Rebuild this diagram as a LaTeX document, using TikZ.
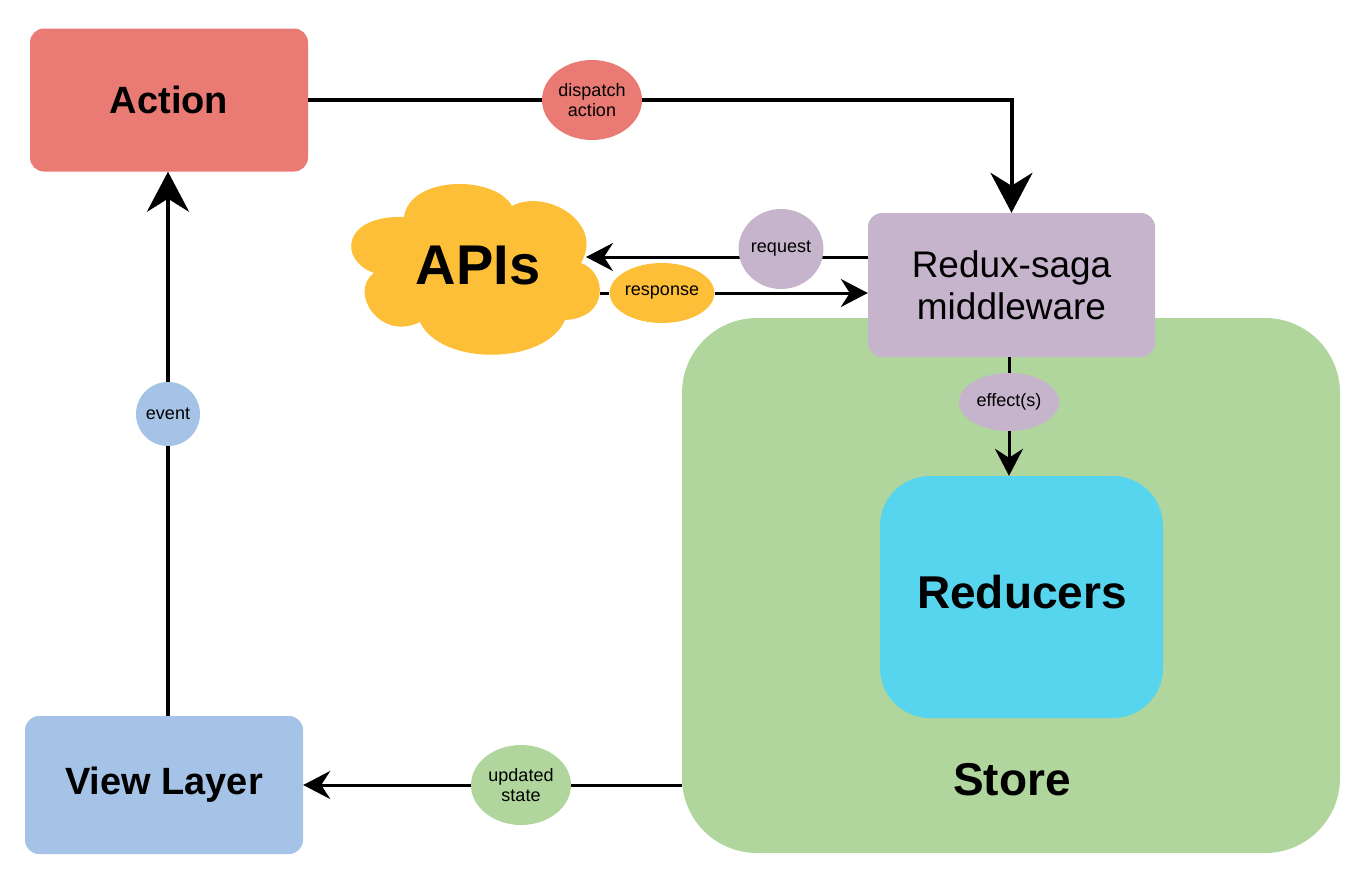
\documentclass[tikz,border=0pt]{standalone}
\usepackage{fontspec}
\setmainfont{Liberation Sans}
\usetikzlibrary{arrows.meta,positioning,shapes.geometric}
\definecolor{actionred}{HTML}{E97B74}
\definecolor{viewblue}{HTML}{A4C3E6}
\definecolor{apiyellow}{HTML}{FDBF37}
\definecolor{sagapurple}{HTML}{C6B4CD}
\definecolor{storegreen}{HTML}{B0D69D}
\definecolor{reducercyan}{HTML}{57D5EE}
\tikzset{
  box/.style={rounded corners=14pt, inner sep=0pt, align=center},
  tag/.style={ellipse, inner sep=0pt, align=center, font=\fontsize{18}{20}\selectfont},
  bigline/.style={line width=4pt},
  smallline/.style={line width=3pt},
  bigtip/.style={-{Stealth[length=40pt,width=42pt,inset=13pt]}},
  smalltip/.style={-{Stealth[length=27pt,width=28pt,inset=9pt]}},
}
\begin{document}
\begin{tikzpicture}[x=1pt,y=-1pt]
  \useasboundingbox (0,0) rectangle (1368,894);
  % boxes
  \node [box, fill=storegreen, rounded corners=75pt, minimum width=658pt, minimum height=535pt] (store) at (1011,585.5) {};
  \node [font=\fontsize{46}{50}\selectfont\bfseries] (storelbl) at (1012,780) {Store};
  \node [box, fill=reducercyan, rounded corners=50pt, minimum width=283pt, minimum height=242pt] (reducers) at (1021.5,597) {};
  \node [font=\fontsize{46}{50}\selectfont\bfseries] (reducerslbl) at (1022,592) {Reducers};
  \node [box, fill=actionred, minimum width=278pt, minimum height=143pt, font=\fontsize{38}{42}\selectfont\bfseries] (action) at (169,100) {Action};
  \node [box, fill=viewblue, minimum width=278pt, minimum height=138pt, font=\fontsize{38}{42}\selectfont\bfseries] (view) at (164,785) {View Layer};
  \node [box, fill=sagapurple, minimum width=287pt, minimum height=144pt, font=\fontsize{37}{42}\selectfont] (saga) at (1011.5,285) {Redux-saga\\middleware};
  % cloud
  \fill [apiyellow] (404,217) .. controls (410,175) and (495,175) .. (512,206)
    .. controls (545,188) and (605,222) .. (581,263)
    .. controls (607,272) and (610,318) .. (565,320)
    .. controls (545,366) and (440,366) .. (420,322)
    .. controls (380,342) and (348,292) .. (374,273)
    .. controls (338,260) and (342,215) .. (404,217) -- cycle;
  \node [font=\fontsize{56}{60}\selectfont\bfseries] (apis) at (478,266) {APIs};
  \coordinate (apisin) at (586,257);
  \coordinate (apisout) at (600,293);
  % tags
  \node [tag, fill=actionred, minimum width=100pt, minimum height=80pt] (dispatch) at (592,100) {dispatch\\action};
  \node [tag, fill=apiyellow, minimum width=100pt, minimum height=60pt] (response) at (662,293) {response};
  \node [tag, fill=sagapurple, minimum width=100pt, minimum height=58pt] (effects) at (1009,402) {effect(s)};
  \node [tag, fill=viewblue, minimum width=64pt, minimum height=64pt] (event) at (168,414) {event};
  \node [tag, fill=storegreen, minimum width=100pt, minimum height=80pt] (updated) at (521,785) {updated\\state};
  % connectors
  \draw [bigline, bigtip] (action) -- (dispatch) -| (saga);
  \draw [bigline, bigtip] (view.north -| event) -- (event) -- (action.south -| event);
  \draw [smallline, smalltip] (saga.west |- apisin) -- (apisin);
  \node [tag, fill=sagapurple, minimum width=80pt, minimum height=80pt] (request) at (781,249) {request};
  \draw [smallline, smalltip] (apisout) -- (response) -- (saga.west |- response);
  \draw [smallline, smalltip] (saga.south -| effects) -- (effects) -- (reducers.north -| effects);
  \draw [smallline, smalltip] (store.west |- updated) -- (updated) -- (view.east |- updated);
\end{tikzpicture}
\end{document}
